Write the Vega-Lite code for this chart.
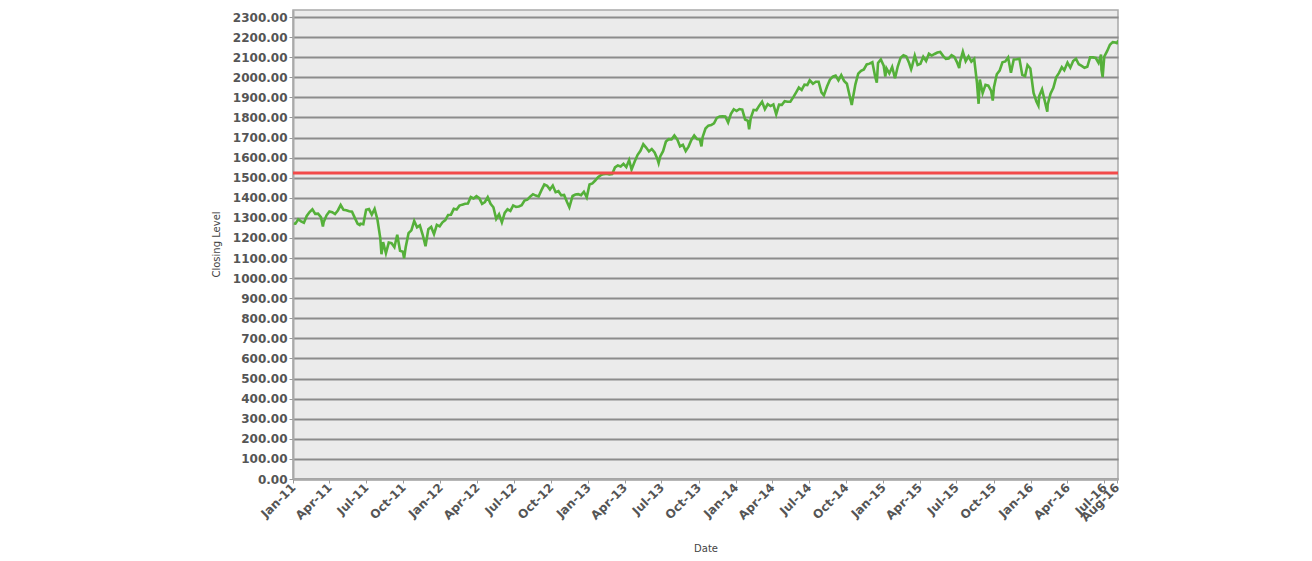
{
  "$schema": "https://vega.github.io/schema/vega-lite/v6.json",
  "width": 825,
  "height": 469,
  "autosize": {"type": "none"},
  "padding": {"left": 293, "top": 10, "right": 194, "bottom": 82},
  "background": "white",
  "config": {
    "view": {"fill": "#ebebeb", "stroke": "#a9a9a9", "strokeWidth": 1.5},
    "axis": {
      "labelFont": "DejaVu Sans", "labelFontSize": 12, "labelFontWeight": "bold", "labelColor": "#555555",
      "labelOverlap": false, "labelFlush": false, "labelBound": false,
      "titleFont": "DejaVu Sans", "titleFontSize": 10, "titleFontWeight": "normal", "titleColor": "#444444",
      "domainColor": "#a9a9a9", "domainWidth": 2, "tickColor": "#999999", "tickSize": 4
    }
  },
  "data": {"values": [
    {"d":"2011-01-03","v":1272},{"d":"2011-01-07","v":1271},{"d":"2011-01-14","v":1293},{"d":"2011-01-21","v":1283},{"d":"2011-01-28","v":1276},
    {"d":"2011-02-04","v":1310},{"d":"2011-02-11","v":1329},{"d":"2011-02-18","v":1343},{"d":"2011-02-25","v":1320},
    {"d":"2011-03-04","v":1321},{"d":"2011-03-11","v":1304},{"d":"2011-03-16","v":1257},{"d":"2011-03-18","v":1279},{"d":"2011-03-25","v":1313},
    {"d":"2011-04-01","v":1332},{"d":"2011-04-08","v":1328},{"d":"2011-04-15","v":1319},{"d":"2011-04-22","v":1337},{"d":"2011-04-29","v":1364},
    {"d":"2011-05-06","v":1340},{"d":"2011-05-13","v":1338},{"d":"2011-05-20","v":1333},{"d":"2011-05-27","v":1331},
    {"d":"2011-06-03","v":1300},{"d":"2011-06-10","v":1271},{"d":"2011-06-15","v":1265},{"d":"2011-06-17","v":1271},{"d":"2011-06-24","v":1268},
    {"d":"2011-07-01","v":1340},{"d":"2011-07-08","v":1344},{"d":"2011-07-15","v":1316},{"d":"2011-07-22","v":1345},{"d":"2011-07-29","v":1292},
    {"d":"2011-08-05","v":1199},{"d":"2011-08-08","v":1119},{"d":"2011-08-12","v":1179},{"d":"2011-08-19","v":1124},{"d":"2011-08-26","v":1177},
    {"d":"2011-09-02","v":1174},{"d":"2011-09-09","v":1154},{"d":"2011-09-16","v":1216},{"d":"2011-09-23","v":1136},{"d":"2011-09-30","v":1131},
    {"d":"2011-10-03","v":1099},{"d":"2011-10-07","v":1155},{"d":"2011-10-14","v":1224},{"d":"2011-10-21","v":1238},{"d":"2011-10-28","v":1285},
    {"d":"2011-11-04","v":1253},{"d":"2011-11-11","v":1263},{"d":"2011-11-18","v":1216},{"d":"2011-11-25","v":1159},
    {"d":"2011-12-02","v":1244},{"d":"2011-12-09","v":1255},{"d":"2011-12-16","v":1219},{"d":"2011-12-23","v":1265},{"d":"2011-12-30","v":1258},
    {"d":"2012-01-06","v":1278},{"d":"2012-01-13","v":1289},{"d":"2012-01-20","v":1315},{"d":"2012-01-27","v":1316},
    {"d":"2012-02-03","v":1345},{"d":"2012-02-10","v":1342},{"d":"2012-02-17","v":1361},{"d":"2012-02-24","v":1366},
    {"d":"2012-03-02","v":1370},{"d":"2012-03-09","v":1371},{"d":"2012-03-16","v":1404},{"d":"2012-03-23","v":1397},{"d":"2012-03-30","v":1408},
    {"d":"2012-04-06","v":1398},{"d":"2012-04-13","v":1370},{"d":"2012-04-20","v":1379},{"d":"2012-04-27","v":1403},
    {"d":"2012-05-04","v":1370},{"d":"2012-05-11","v":1353},{"d":"2012-05-18","v":1295},{"d":"2012-05-25","v":1318},
    {"d":"2012-06-01","v":1278},{"d":"2012-06-08","v":1325},{"d":"2012-06-15","v":1343},{"d":"2012-06-22","v":1335},{"d":"2012-06-29","v":1362},
    {"d":"2012-07-06","v":1355},{"d":"2012-07-13","v":1357},{"d":"2012-07-20","v":1363},{"d":"2012-07-27","v":1386},
    {"d":"2012-08-03","v":1391},{"d":"2012-08-10","v":1406},{"d":"2012-08-17","v":1418},{"d":"2012-08-24","v":1411},{"d":"2012-08-31","v":1407},
    {"d":"2012-09-07","v":1438},{"d":"2012-09-14","v":1466},{"d":"2012-09-21","v":1460},{"d":"2012-09-28","v":1441},
    {"d":"2012-10-05","v":1461},{"d":"2012-10-12","v":1428},{"d":"2012-10-19","v":1433},{"d":"2012-10-26","v":1412},
    {"d":"2012-11-02","v":1414},{"d":"2012-11-09","v":1380},{"d":"2012-11-15","v":1353},{"d":"2012-11-23","v":1409},{"d":"2012-11-30","v":1416},
    {"d":"2012-12-07","v":1418},{"d":"2012-12-14","v":1413},{"d":"2012-12-21","v":1430},{"d":"2012-12-28","v":1402},
    {"d":"2013-01-04","v":1466},{"d":"2013-01-11","v":1472},{"d":"2013-01-18","v":1486},{"d":"2013-01-25","v":1503},
    {"d":"2013-02-01","v":1513},{"d":"2013-02-08","v":1518},{"d":"2013-02-15","v":1520},{"d":"2013-02-22","v":1516},
    {"d":"2013-03-01","v":1518},{"d":"2013-03-08","v":1551},{"d":"2013-03-15","v":1561},{"d":"2013-03-22","v":1556},{"d":"2013-03-29","v":1569},
    {"d":"2013-04-05","v":1553},{"d":"2013-04-12","v":1588},{"d":"2013-04-18","v":1541},{"d":"2013-04-26","v":1582},
    {"d":"2013-05-03","v":1614},{"d":"2013-05-10","v":1634},{"d":"2013-05-17","v":1667},{"d":"2013-05-24","v":1650},{"d":"2013-05-31","v":1631},
    {"d":"2013-06-07","v":1643},{"d":"2013-06-14","v":1626},{"d":"2013-06-21","v":1593},{"d":"2013-06-24","v":1573},{"d":"2013-06-28","v":1606},
    {"d":"2013-07-05","v":1632},{"d":"2013-07-12","v":1680},{"d":"2013-07-19","v":1692},{"d":"2013-07-26","v":1691},
    {"d":"2013-08-02","v":1710},{"d":"2013-08-09","v":1691},{"d":"2013-08-16","v":1656},{"d":"2013-08-23","v":1664},{"d":"2013-08-30","v":1633},
    {"d":"2013-09-06","v":1655},{"d":"2013-09-13","v":1688},{"d":"2013-09-20","v":1710},{"d":"2013-09-27","v":1692},
    {"d":"2013-10-04","v":1690},{"d":"2013-10-08","v":1656},{"d":"2013-10-11","v":1703},{"d":"2013-10-18","v":1745},{"d":"2013-10-25","v":1759},
    {"d":"2013-11-01","v":1762},{"d":"2013-11-08","v":1771},{"d":"2013-11-15","v":1798},{"d":"2013-11-22","v":1805},{"d":"2013-11-29","v":1806},
    {"d":"2013-12-06","v":1805},{"d":"2013-12-13","v":1775},{"d":"2013-12-20","v":1818},{"d":"2013-12-27","v":1841},
    {"d":"2014-01-03","v":1832},{"d":"2014-01-10","v":1842},{"d":"2014-01-17","v":1839},{"d":"2014-01-24","v":1790},{"d":"2014-01-31","v":1783},
    {"d":"2014-02-03","v":1741},{"d":"2014-02-07","v":1797},{"d":"2014-02-14","v":1838},{"d":"2014-02-21","v":1836},{"d":"2014-02-28","v":1859},
    {"d":"2014-03-07","v":1878},{"d":"2014-03-14","v":1841},{"d":"2014-03-21","v":1866},{"d":"2014-03-28","v":1857},
    {"d":"2014-04-04","v":1865},{"d":"2014-04-11","v":1816},{"d":"2014-04-18","v":1864},{"d":"2014-04-25","v":1863},
    {"d":"2014-05-02","v":1881},{"d":"2014-05-09","v":1878},{"d":"2014-05-16","v":1878},{"d":"2014-05-23","v":1900},{"d":"2014-05-30","v":1924},
    {"d":"2014-06-06","v":1949},{"d":"2014-06-13","v":1937},{"d":"2014-06-20","v":1963},{"d":"2014-06-27","v":1961},
    {"d":"2014-07-03","v":1985},{"d":"2014-07-11","v":1968},{"d":"2014-07-18","v":1978},{"d":"2014-07-25","v":1978},
    {"d":"2014-08-01","v":1925},{"d":"2014-08-07","v":1910},{"d":"2014-08-15","v":1955},{"d":"2014-08-22","v":1988},{"d":"2014-08-29","v":2003},
    {"d":"2014-09-05","v":2008},{"d":"2014-09-12","v":1985},{"d":"2014-09-19","v":2011},{"d":"2014-09-26","v":1982},
    {"d":"2014-10-03","v":1968},{"d":"2014-10-10","v":1906},{"d":"2014-10-15","v":1862},{"d":"2014-10-17","v":1887},{"d":"2014-10-24","v":1965},{"d":"2014-10-31","v":2018},
    {"d":"2014-11-07","v":2032},{"d":"2014-11-14","v":2039},{"d":"2014-11-21","v":2064},{"d":"2014-11-28","v":2068},
    {"d":"2014-12-05","v":2075},{"d":"2014-12-12","v":2003},{"d":"2014-12-16","v":1973},{"d":"2014-12-19","v":2071},{"d":"2014-12-26","v":2089},
    {"d":"2015-01-02","v":2058},{"d":"2015-01-06","v":2003},{"d":"2015-01-09","v":2044},{"d":"2015-01-16","v":2019},{"d":"2015-01-23","v":2051},{"d":"2015-01-30","v":1995},
    {"d":"2015-02-06","v":2055},{"d":"2015-02-13","v":2097},{"d":"2015-02-20","v":2110},{"d":"2015-02-27","v":2104},
    {"d":"2015-03-06","v":2071},{"d":"2015-03-11","v":2040},{"d":"2015-03-13","v":2053},{"d":"2015-03-20","v":2108},{"d":"2015-03-27","v":2061},
    {"d":"2015-04-03","v":2067},{"d":"2015-04-10","v":2102},{"d":"2015-04-17","v":2081},{"d":"2015-04-24","v":2117},
    {"d":"2015-05-01","v":2108},{"d":"2015-05-08","v":2116},{"d":"2015-05-15","v":2123},{"d":"2015-05-22","v":2126},{"d":"2015-05-29","v":2107},
    {"d":"2015-06-05","v":2092},{"d":"2015-06-12","v":2094},{"d":"2015-06-19","v":2110},{"d":"2015-06-26","v":2101},
    {"d":"2015-07-02","v":2077},{"d":"2015-07-08","v":2046},{"d":"2015-07-10","v":2077},{"d":"2015-07-17","v":2127},{"d":"2015-07-24","v":2080},{"d":"2015-07-31","v":2104},
    {"d":"2015-08-07","v":2078},{"d":"2015-08-14","v":2092},{"d":"2015-08-21","v":1971},{"d":"2015-08-24","v":1893},{"d":"2015-08-25","v":1868},{"d":"2015-08-28","v":1989},
    {"d":"2015-09-04","v":1921},{"d":"2015-09-11","v":1962},{"d":"2015-09-18","v":1958},{"d":"2015-09-25","v":1932},{"d":"2015-09-29","v":1884},
    {"d":"2015-10-02","v":1951},{"d":"2015-10-09","v":2015},{"d":"2015-10-16","v":2033},{"d":"2015-10-23","v":2075},{"d":"2015-10-30","v":2079},
    {"d":"2015-11-06","v":2099},{"d":"2015-11-13","v":2023},{"d":"2015-11-20","v":2089},{"d":"2015-11-27","v":2090},
    {"d":"2015-12-04","v":2092},{"d":"2015-12-11","v":2012},{"d":"2015-12-18","v":2006},{"d":"2015-12-24","v":2061},{"d":"2015-12-31","v":2044},
    {"d":"2016-01-08","v":1922},{"d":"2016-01-15","v":1880},{"d":"2016-01-20","v":1859},{"d":"2016-01-22","v":1907},{"d":"2016-01-29","v":1940},
    {"d":"2016-02-05","v":1880},{"d":"2016-02-11","v":1829},{"d":"2016-02-12","v":1865},{"d":"2016-02-19","v":1918},{"d":"2016-02-26","v":1948},
    {"d":"2016-03-04","v":2000},{"d":"2016-03-11","v":2022},{"d":"2016-03-18","v":2050},{"d":"2016-03-24","v":2035},
    {"d":"2016-04-01","v":2073},{"d":"2016-04-08","v":2048},{"d":"2016-04-15","v":2081},{"d":"2016-04-22","v":2092},{"d":"2016-04-29","v":2065},
    {"d":"2016-05-06","v":2057},{"d":"2016-05-13","v":2047},{"d":"2016-05-20","v":2052},{"d":"2016-05-27","v":2099},
    {"d":"2016-06-03","v":2099},{"d":"2016-06-10","v":2096},{"d":"2016-06-17","v":2071},{"d":"2016-06-23","v":2113},{"d":"2016-06-24","v":2038},{"d":"2016-06-27","v":2001},
    {"d":"2016-07-01","v":2103},{"d":"2016-07-08","v":2130},{"d":"2016-07-15","v":2162},{"d":"2016-07-22","v":2175},{"d":"2016-07-29","v":2173},
    {"d":"2016-08-01","v":2170},{"d":"2016-08-05","v":2183}
  ]},
  "layer": [
    {
      "mark": {"type": "line", "color": "#55b03a", "strokeWidth": 2.6, "clip": true},
      "encoding": {
        "x": {
          "field": "d", "type": "temporal",
          "scale": {"type": "utc", "domain": [{"year": 2011, "month": 1, "date": 1, "utc": true}, {"year": 2016, "month": 8, "date": 4, "utc": true}]},
          "axis": {
            "title": "Date", "format": "%b-%y", "labelAngle": -45, "labelAlign": "right", "labelBaseline": "middle",
            "grid": false, "titleY": 69, "titleBaseline": "middle",
            "values": [
              {"year": 2011, "month": 1, "date": 1, "utc": true}, {"year": 2011, "month": 4, "date": 1, "utc": true}, {"year": 2011, "month": 7, "date": 1, "utc": true}, {"year": 2011, "month": 10, "date": 1, "utc": true},
              {"year": 2012, "month": 1, "date": 1, "utc": true}, {"year": 2012, "month": 4, "date": 1, "utc": true}, {"year": 2012, "month": 7, "date": 1, "utc": true}, {"year": 2012, "month": 10, "date": 1, "utc": true},
              {"year": 2013, "month": 1, "date": 1, "utc": true}, {"year": 2013, "month": 4, "date": 1, "utc": true}, {"year": 2013, "month": 7, "date": 1, "utc": true}, {"year": 2013, "month": 10, "date": 1, "utc": true},
              {"year": 2014, "month": 1, "date": 1, "utc": true}, {"year": 2014, "month": 4, "date": 1, "utc": true}, {"year": 2014, "month": 7, "date": 1, "utc": true}, {"year": 2014, "month": 10, "date": 1, "utc": true},
              {"year": 2015, "month": 1, "date": 1, "utc": true}, {"year": 2015, "month": 4, "date": 1, "utc": true}, {"year": 2015, "month": 7, "date": 1, "utc": true}, {"year": 2015, "month": 10, "date": 1, "utc": true},
              {"year": 2016, "month": 1, "date": 1, "utc": true}, {"year": 2016, "month": 4, "date": 1, "utc": true}, {"year": 2016, "month": 7, "date": 1, "utc": true}, {"year": 2016, "month": 8, "date": 1, "utc": true}
            ]
          }
        },
        "y": {
          "field": "v", "type": "quantitative",
          "scale": {"domain": [0, 2335], "nice": false, "zero": true},
          "axis": {
            "title": "Closing Level", "format": ".2f", "grid": true, "gridColor": "#8c8c8c", "gridWidth": 2,
            "titleX": -77, "titleY": 234, "titleBaseline": "middle",
            "values": [0,100,200,300,400,500,600,700,800,900,1000,1100,1200,1300,1400,1500,1600,1700,1800,1900,2000,2100,2200,2300]
          }
        }
      }
    },
    {
      "data": {"values": [{"level": 1523}]},
      "mark": {"type": "rule", "color": "#f24a4a", "strokeWidth": 3},
      "encoding": {
        "y": {
          "field": "level", "type": "quantitative",
          "axis": {
            "title": "Closing Level", "format": ".2f", "grid": true, "gridColor": "#8c8c8c", "gridWidth": 2,
            "titleX": -77, "titleY": 234, "titleBaseline": "middle",
            "values": [0,100,200,300,400,500,600,700,800,900,1000,1100,1200,1300,1400,1500,1600,1700,1800,1900,2000,2100,2200,2300]
          }
        }
      }
    }
  ]
}
